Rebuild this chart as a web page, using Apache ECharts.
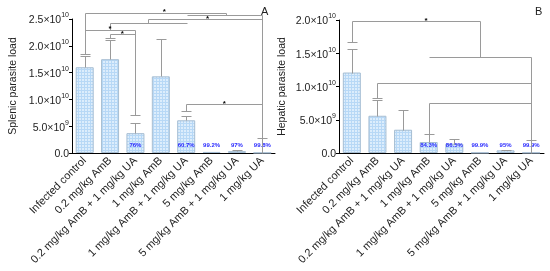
<!DOCTYPE html>
<html>
<head>
<meta charset="utf-8">
<script src="https://cdn.jsdelivr.net/npm/echarts@6/dist/echarts.min.js"></script>
<style>
  html, body { margin: 0; padding: 0; background: #fff; }
  #chart { width: 550px; height: 271px; }
</style>
</head>
<body>
<div id="chart"></div>
<script>
  // values in units of 1e10 parasites
  const CATS = [
    'Infected control', '0.2 mg/kg AmB', '0.2 mg/kg AmB + 1 mg/kg UA', '1 mg/kg AmB',
    '1 mg/kg AmB + 1 mg/kg UA', '5 mg/kg AmB', '5 mg/kg AmB + 1 mg/kg UA', '1 mg/kg UA',
  ];

  const SPLEEN = [1.60, 1.75, 0.37, 1.43, 0.61, 0.02, 0.035, 0.005];
  const SPLEEN_SD = [0.21, 0.36, 0.19, 0.70, 0.08, 0, 0.015, 0.275];
  const SPLEEN_PCT = ['', '', '76%', '', '60.7%', '99.2%', '97%', '99.8%'];

  const LIVER = [1.21, 0.56, 0.35, 0.165, 0.14, 0.005, 0.04, 0.005];
  const LIVER_SD = [0.36, 0.24, 0.30, 0.125, 0.07, 0, 0.01, 0.195];
  const LIVER_PCT = ['', '', '', '84.3%', '86.5%', '99.9%', '95%', '99.9%'];

  // significance brackets: horizontal [x1, x2, y], vertical [x, y1, y2], caps [x, y], stars [x, y]
  const SPLEEN_H = [[0, 5.55, 2.62], [4.05, 7, 2.58], [2.5, 7, 2.50], [1, 4.05, 2.42], [0, 2, 2.30], [1, 2, 2.22], [4, 7, 0.91]];
  const SPLEEN_V = [[0, 2.62, 1.85], [5.55, 2.62, 2.58], [2.5, 2.50, 2.42], [1, 2.42, 2.30], [2, 2.30, 0.71], [1, 2.22, 2.14], [7, 2.58, 0.28], [4, 0.91, 0.79]];
  const SPLEEN_CAPS = [[0, 1.85], [1, 2.14], [2, 0.71], [4, 0.79]];
  const SPLEEN_STARS = [[3.14, 2.67], [4.84, 2.54], [1.0, 2.35], [1.48, 2.27], [5.5, 0.96]];

  const LIVER_H = [[0, 5.02, 1.98], [3.03, 7, 1.44], [1, 7, 1.05], [3, 7, 0.75]];
  const LIVER_V = [[0, 1.98, 1.67], [5.02, 1.98, 1.44], [7, 1.44, 0.2], [1, 1.05, 0.83], [3, 0.75, 0.29]];
  const LIVER_CAPS = [[0, 1.67], [1, 0.83]];
  const LIVER_STARS = [[2.9, 2.02]];

  const FONT = "'Liberation Sans', Arial, sans-serif";
  const GREY = '#9a9a9a';

  function hatch() {
    const c = document.createElement('canvas');
    c.width = 3; c.height = 3;
    const g = c.getContext('2d');
    g.fillStyle = '#dcedfc';
    g.fillRect(0, 0, 3, 3);
    g.fillStyle = '#b7d8f6';
    g.fillRect(0, 0, 3, 1);
    g.fillRect(0, 0, 1, 3);
    return c;
  }
  const PATTERN = { image: hatch(), repeat: 'repeat' };

  // category axis rounds fractional indexes, so interpolate between two ticks
  function pt(api, x, y) {
    const a = api.coord([0, y]);
    const b = api.coord([1, y]);
    return [a[0] + (b[0] - a[0]) * x, a[1]];
  }
  const crisp = (v) => Math.round(v) + 0.5;
  const line = (p, q) => ({
    type: 'line',
    shape: { x1: crisp(p[0]), y1: crisp(p[1]), x2: crisp(q[0]), y2: crisp(q[1]) },
    style: { stroke: GREY, lineWidth: 1 },
  });
  const cap = (p) => line([p[0] - 5, p[1]], [p[0] + 5, p[1]]);

  function tickLabel(v) {
    if (v === 0) return '{m|0.0}';
    if (v < 1) return '{m|' + (v * 10).toFixed(1) + '×10}{s|9}';
    return '{m|' + v.toFixed(1) + '×10}{s|10}';
  }

  function panel(i, vals, sd, pct, H, V, caps, stars) {
    const segs = []
      .concat(H.map(([x1, x2, y]) => ({ k: 'l', a: [x1, y], b: [x2, y] })))
      .concat(V.map(([x, y1, y2]) => ({ k: 'l', a: [x, y1], b: [x, y2] })))
      .concat(caps.map(([x, y]) => ({ k: 'c', a: [x, y] })))
      .concat(stars.map(([x, y]) => ({ k: 's', a: [x, y] })));
    return [
      {
        type: 'bar',
        xAxisIndex: i, yAxisIndex: i,
        barWidth: 18,
        data: vals,
        itemStyle: { color: PATTERN, borderColor: '#a6bdd2', borderWidth: 1 },
        label: {
          show: true,
          position: 'insideBottom',
          distance: 5,
          formatter: (p) => pct[p.dataIndex],
          color: '#2a2aff',
          fontSize: 6,
          fontWeight: 'bold',
          fontFamily: FONT,
        },
        silent: true,
      },
      {
        type: 'custom',
        xAxisIndex: i, yAxisIndex: i,
        data: vals.map((v, k) => [k, v + sd[k]]),
        renderItem: (params, api) => {
          const k = params.dataIndex;
          if (!sd[k]) return null;
          const top = api.coord([k, vals[k] + sd[k]]);
          const bot = api.coord([k, vals[k]]);
          return { type: 'group', children: [line(top, bot), cap(top)] };
        },
        z: 3,
        silent: true,
      },
      {
        type: 'custom',
        xAxisIndex: i, yAxisIndex: i,
        data: segs.map(() => [0, 0]),
        renderItem: (params, api) => {
          const s = segs[params.dataIndex];
          const a = pt(api, s.a[0], s.a[1]);
          if (s.k === 'c') return cap(a);
          if (s.k === 's') {
            return {
              type: 'text',
              style: { text: '*', x: a[0], y: a[1] + 2, fill: '#000', font: 'bold 8px ' + FONT, align: 'center', verticalAlign: 'middle' },
            };
          }
          return line(a, pt(api, s.b[0], s.b[1]));
        },
        z: 4,
        silent: true,
      },
    ];
  }

  const axisText = { color: '#222', fontFamily: FONT };

  function yAxis(i, max, name, gap) {
    return {
      type: 'value', gridIndex: i, min: 0, max, interval: 0.5,
      name, nameLocation: 'middle', nameGap: gap,
      nameTextStyle: { ...axisText, fontSize: 10.5 },
      axisLine: { show: true, lineStyle: { color: '#000', width: 1 } },
      axisTick: { show: true, length: 3, lineStyle: { color: '#000' } },
      splitLine: { show: false },
      axisLabel: {
        formatter: tickLabel, margin: 3,
        rich: {
          m: { ...axisText, fontSize: 10.5, lineHeight: 14, verticalAlign: 'bottom' },
          s: { ...axisText, fontSize: 7, lineHeight: 10, verticalAlign: 'top' },
        },
      },
    };
  }

  function xAxis(i) {
    return {
      type: 'category', gridIndex: i, data: CATS,
      axisLine: { lineStyle: { color: '#000', width: 1 } },
      axisTick: { show: false },
      axisLabel: { ...axisText, fontSize: 11, rotate: 45, margin: 6, interval: 0 },
    };
  }

  const chart = echarts.init(document.getElementById('chart'), null, { renderer: 'canvas' });
  chart.setOption({
    animation: false,
    backgroundColor: '#fff',
    textStyle: { fontFamily: FONT },
    title: [
      { text: 'A', left: 256, top: 1, textStyle: { fontSize: 11, fontWeight: 'normal', color: '#222', fontFamily: FONT } },
      { text: 'B', left: 530, top: 1, textStyle: { fontSize: 11, fontWeight: 'normal', color: '#222', fontFamily: FONT } },
    ],
    grid: [
      { left: 72, top: 19, width: 203, height: 134 },
      { left: 339, top: 20, width: 205, height: 133 },
    ],
    xAxis: [xAxis(0), xAxis(1)],
    yAxis: [
      yAxis(0, 2.5, 'Splenic parasite load', 53),
      yAxis(1, 2.0, 'Hepatic parasite load', 51),
    ],
    series: [
      ...panel(0, SPLEEN, SPLEEN_SD, SPLEEN_PCT, SPLEEN_H, SPLEEN_V, SPLEEN_CAPS, SPLEEN_STARS),
      ...panel(1, LIVER, LIVER_SD, LIVER_PCT, LIVER_H, LIVER_V, LIVER_CAPS, LIVER_STARS),
    ],
  });
</script>
</body>
</html>
